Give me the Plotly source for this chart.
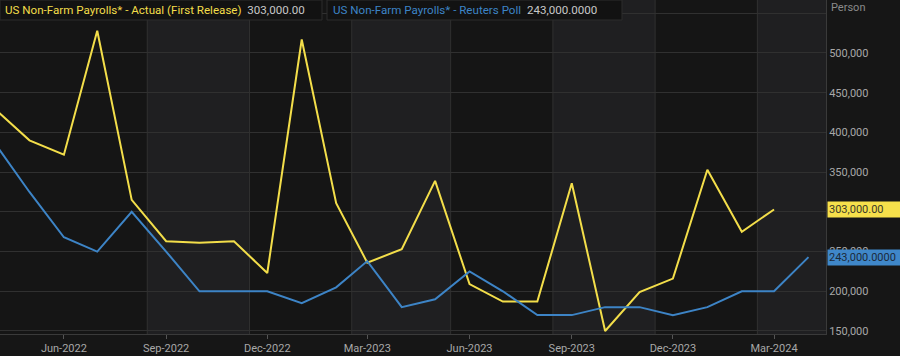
import pandas as pd
import plotly.graph_objects as go

# ---- data ----
actual_months = pd.date_range("2022-04-01", "2024-03-01", freq="MS")
actual_values = [428000, 390000, 372000, 528000, 315000, 263000, 261000, 263000,
                 223000, 517000, 311000, 236000, 253000, 339000, 209000, 187000,
                 187000, 336000, 150000, 199000, 216000, 353000, 275000, 303000]

poll_months = pd.date_range("2022-04-01", "2024-04-01", freq="MS")
poll_values = [384000, 325000, 268000, 250000, 300000, 250000, 200000, 200000,
               200000, 185000, 205000, 238000, 180000, 190000, 225000, 200000,
               170000, 170000, 180000, 180000, 170000, 180000, 200000, 200000,
               243000]

actual_name = "US Non-Farm Payrolls* - Actual (First Release)"
poll_name = "US Non-Farm Payrolls* - Reuters Poll"
actual_last_label = "303,000.00"
poll_last_label = "243,000.0000"

x_tick_dates = ["2022-06-01", "2022-09-01", "2022-12-01", "2023-03-01",
                "2023-06-01", "2023-09-01", "2023-12-01", "2024-03-01"]
x_tick_text = ["Jun-2022", "Sep-2022", "Dec-2022", "Mar-2023",
               "Jun-2023", "Sep-2023", "Dec-2023", "Mar-2024"]
y_tick_vals = [150000, 200000, 250000, 300000, 350000, 400000, 450000, 500000, 550000]
y_tick_text = ["150,000", "200,000", "250,000", "", "350,000",
               "400,000", "450,000", "500,000", ""]

band_edges = ["2022-03-01", "2022-08-15", "2022-11-15", "2023-02-15", "2023-05-15",
              "2023-08-15", "2023-11-15", "2024-02-15", "2024-06-01"]

# ---- style ----
YELLOW = "#f3de4a"
BLUE = "#3d84c6"
FONT = "Roboto"
X_RANGE = ["2022-04-04 12:00", "2024-04-16 18:00"]
Y_RANGE = [146200, 566700]

fig = go.Figure()
fig.add_trace(go.Scatter(x=actual_months, y=actual_values, mode="lines",
                         line=dict(color=YELLOW, width=2), name=actual_name,
                         showlegend=False))
fig.add_trace(go.Scatter(x=poll_months, y=poll_values, mode="lines",
                         line=dict(color=BLUE, width=2), name=poll_name,
                         showlegend=False))

shapes = []
for i in range(len(band_edges) - 1):
    shapes.append(dict(type="rect", xref="x", yref="paper",
                       x0=band_edges[i], x1=band_edges[i + 1], y0=0, y1=1,
                       fillcolor="#1f1f21" if i % 2 == 1 else "#151515",
                       line=dict(width=0), layer="below"))
for e in band_edges[1:-1]:
    shapes.append(dict(type="line", xref="x", yref="paper", x0=e, x1=e, y0=0, y1=1,
                       line=dict(color="#303030", width=1), layer="below"))

# legend boxes (pixel-based in paper coords)
PW, PH = 826.0, 334.0
def px(x):
    return x / PW
def py(y):
    return 1 - y / PH

for (x0, x1) in [(0, 322), (327, 622)]:
    shapes.append(dict(type="rect", xref="paper", yref="paper",
                       x0=px(x0), x1=px(x1), y0=py(20), y1=py(0),
                       fillcolor="#121212", line=dict(color="#2c2c2c", width=1),
                       layer="above"))

annotations = [
    dict(xref="paper", yref="paper", x=px(3), y=py(10), xanchor="left", yanchor="middle",
         text=f"<span style='color:{YELLOW}'>{actual_name}</span>  "
              f"<span style='color:#c8c8c8'>{actual_last_label}</span>",
         showarrow=False, font=dict(family=FONT, size=11.6)),
    dict(xref="paper", yref="paper", x=px(331), y=py(10), xanchor="left", yanchor="middle",
         text=f"<span style='color:{BLUE}'>{poll_name}</span>  "
              f"<span style='color:#c8c8c8'>{poll_last_label}</span>",
         showarrow=False, font=dict(family=FONT, size=11.6)),
    dict(xref="paper", yref="paper", x=px(829), y=py(7), xanchor="left", yanchor="middle",
         text="Person", showarrow=False, font=dict(family=FONT, size=11, color="#8a8a8a")),
    dict(xref="paper", yref="y", x=1.0, y=actual_values[-1], xanchor="left", yanchor="middle",
         text=actual_last_label, showarrow=False, bgcolor="#f6e04b", borderpad=1,
         width=76, align="left", xshift=1,
         font=dict(family=FONT, size=11, color="#3a3a2a")),
    dict(xref="paper", yref="y", x=1.0, y=poll_values[-1], xanchor="left", yanchor="middle",
         text=poll_last_label, showarrow=False, bgcolor="#3f87c9", borderpad=1,
         width=78, align="left", xshift=1,
         font=dict(family=FONT, size=11, color="#1c2a3a")),
]

fig.update_layout(
    width=900, height=356,
    margin=dict(l=0, r=74, t=0, b=22),
    paper_bgcolor="#161616", plot_bgcolor="#151515",
    font=dict(family=FONT, size=11, color="#a8a8a8"),
    shapes=shapes, annotations=annotations,
    xaxis=dict(type="date", range=X_RANGE, tickvals=x_tick_dates, ticktext=x_tick_text,
               showgrid=False, zeroline=False, showline=True, linecolor="#3a3a3a",
               ticks="outside", ticklen=4, tickcolor="#555555",
               tickfont=dict(family=FONT, size=11, color="#a8a8a8")),
    yaxis=dict(side="right", range=Y_RANGE, tickvals=y_tick_vals, ticktext=y_tick_text,
               showgrid=True, gridcolor="#303030", gridwidth=1, zeroline=False,
               showline=True, linecolor="#3a3a3a", ticks="",
               tickfont=dict(family=FONT, size=11, color="#a8a8a8")),
    showlegend=False,
)

fig.write_html("out.html", config={"displayModeBar": False},
               post_script="document.body.style.margin='0px';"
                           "document.body.style.background='#161616';")
